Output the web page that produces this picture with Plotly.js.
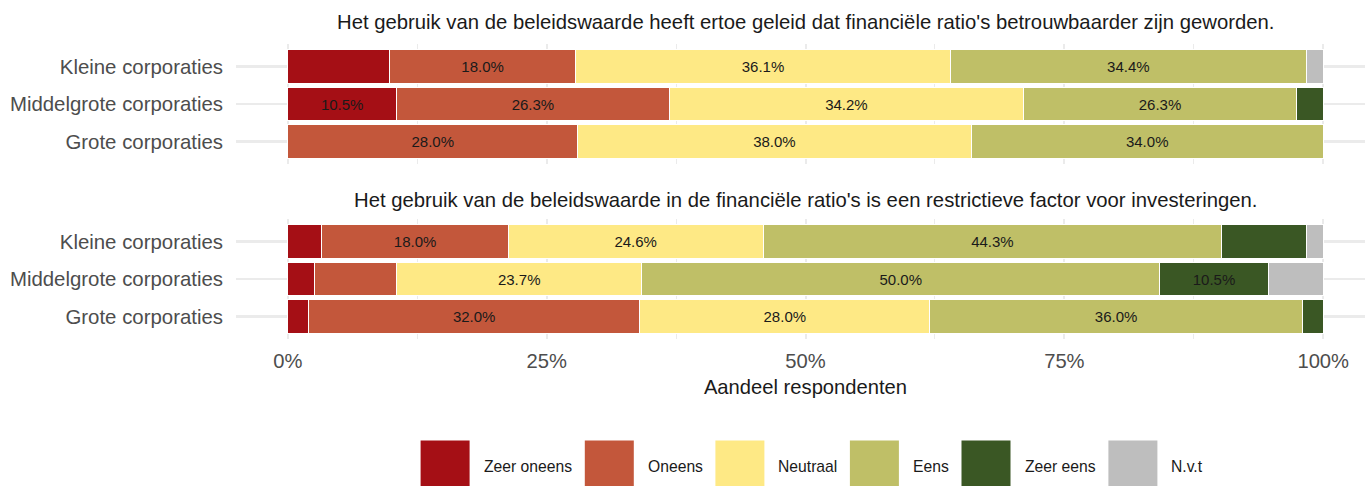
<!DOCTYPE html>
<html>
<head>
<meta charset="utf-8">
<script src="https://cdn.plot.ly/plotly-3.0.1.min.js"></script>
<style>
html, body { margin: 0; padding: 0; overflow: hidden; background: #ffffff; }
#chart { width: 1375px; height: 486px; }
</style>
</head>
<body>
<div id="chart"></div>
<script>
// ---- data ----
const categories = ["Kleine corporaties", "Middelgrote corporaties", "Grote corporaties"];
const levels = ["Zeer oneens", "Oneens", "Neutraal", "Eens", "Zeer eens", "N.v.t"];
const levelColors = ["#a50f15", "#c3573b", "#fee985", "#bfbf67", "#3a5724", "#bebebe"];
const panelTitles = [
  "Het gebruik van de beleidswaarde heeft ertoe geleid dat financiële ratio's betrouwbaarder zijn geworden.",
  "Het gebruik van de beleidswaarde in de financiële ratio's is een restrictieve factor voor investeringen."
];
// percentages per category (rows: Kleine, Middelgrote, Grote; columns follow `levels`)
const betrouwbaarder = [
  [9.8, 18.0, 36.1, 34.4, 0.0, 1.6],
  [10.5, 26.3, 34.2, 26.3, 2.6, 0.0],
  [0.0, 28.0, 38.0, 34.0, 0.0, 0.0]
];
const restrictief = [
  [3.3, 18.0, 24.6, 44.3, 8.2, 1.6],
  [2.6, 7.9, 23.7, 50.0, 10.5, 5.3],
  [2.0, 32.0, 28.0, 36.0, 2.0, 0.0]
];
const xTickVals = [0, 0.25, 0.5, 0.75, 1];
const xTickText = ["0%", "25%", "50%", "75%", "100%"];
const xAxisTitle = "Aandeel respondenten";

// ---- layout geometry (pixels) ----
const W = 1375, H = 486;
const L = 236, R = 1375, T = 44, B = 339;
const px = X => (X - L) / (R - L);
const py = Y => (B - Y) / (B - T);

const FONT = "Liberation Sans, Arial, sans-serif";
const traces = [];
function addPanel(values, xa, ya) {
  levels.forEach((lv, j) => {
    const xs = values.map(row => row[j]);
    traces.push({
      type: "bar",
      orientation: "h",
      name: lv,
      y: categories,
      x: xs,
      xaxis: xa,
      yaxis: ya,
      width: 0.9,
      marker: { color: levelColors[j], line: { color: "#ffffff", width: 1 } },
      text: xs.map(v => (v >= 10 ? v.toFixed(1) + "%" : "")),
      textposition: "inside",
      insidetextanchor: "middle",
      textangle: 0,
      constraintext: "none",
      textfont: { family: FONT, size: 15, color: "#1a1a1a" },
      showlegend: false,
      hoverinfo: "name+x"
    });
  });
}
addPanel(betrouwbaarder, "x2", "y");
addPanel(restrictief, "x", "y2");

const gridColor = "#ebebeb";
const xBase = {
  range: [-0.05, 1.05],
  tickvals: xTickVals,
  ticktext: xTickText,
  showgrid: true,
  gridcolor: gridColor,
  gridwidth: 2,
  minor: { tickvals: [0.125, 0.375, 0.625, 0.875], showgrid: true, gridcolor: gridColor, gridwidth: 1, ticks: "" },
  zeroline: false,
  showline: false,
  ticks: "",
  fixedrange: true
};
const yBase = {
  type: "category",
  categoryorder: "array",
  categoryarray: categories,
  range: [2.6, -0.6],
  showgrid: true,
  gridcolor: gridColor,
  gridwidth: 2.2,
  zeroline: false,
  showline: false,
  ticks: "",
  ticklabelstandoff: 12,
  tickfont: { family: FONT, size: 20.4, color: "#4d4d4d" },
  fixedrange: true
};

const shapes = [];
const annotations = [];
// panel titles
annotations.push({ text: panelTitles[0], xref: "paper", yref: "paper", x: 0.5, y: py(22), xanchor: "center", yanchor: "middle", showarrow: false, font: { family: FONT, size: 20.3, color: "#1a1a1a" } });
annotations.push({ text: panelTitles[1], xref: "paper", yref: "paper", x: 0.5, y: py(200), xanchor: "center", yanchor: "middle", showarrow: false, font: { family: FONT, size: 20.3, color: "#1a1a1a" } });

// legend (large keys as in the reference)
const legendKeyX = [420.6, 584.8, 715.4, 849.9, 961.5, 1108.4];
const keyW = 49, keyTop = 440.5, keyH = 49;
levels.forEach((lv, j) => {
  shapes.push({ type: "rect", xref: "paper", yref: "paper", x0: px(legendKeyX[j]), x1: px(legendKeyX[j] + keyW), y0: py(keyTop + keyH), y1: py(keyTop), fillcolor: levelColors[j], line: { width: 0 }, layer: "above" });
  annotations.push({ text: lv, xref: "paper", yref: "paper", x: px(legendKeyX[j] + keyW + 12), y: py(466), xanchor: "left", yanchor: "middle", showarrow: false, font: { family: FONT, size: 15.7, color: "#1a1a1a" } });
});

const layout = {
  width: W,
  height: H,
  margin: { l: L, r: W - R, t: T, b: H - B, pad: 0 },
  paper_bgcolor: "#ffffff",
  plot_bgcolor: "#ffffff",
  barmode: "stack",
  barnorm: "fraction",
  bargap: 0,
  showlegend: false,
  font: { family: FONT, color: "#4d4d4d" },
  xaxis: Object.assign({}, xBase, {
    anchor: "y2",
    domain: [0, 1],
    showticklabels: true,
    ticklabelstandoff: 8,
    tickfont: { family: FONT, size: 20.2, color: "#4d4d4d" },
    title: { text: xAxisTitle, font: { family: FONT, size: 20.2, color: "#1a1a1a" }, standoff: 8 },
    automargin: false
  }),
  xaxis2: Object.assign({}, xBase, { anchor: "y", matches: "x", showticklabels: false }),
  yaxis: Object.assign({}, yBase, { domain: [py(164), 1], anchor: "x2" }),
  yaxis2: Object.assign({}, yBase, { domain: [0, py(219)], anchor: "x" }),
  shapes: shapes,
  annotations: annotations
};

Plotly.newPlot("chart", traces, layout, { displayModeBar: false, staticPlot: true });
</script>
</body>
</html>
